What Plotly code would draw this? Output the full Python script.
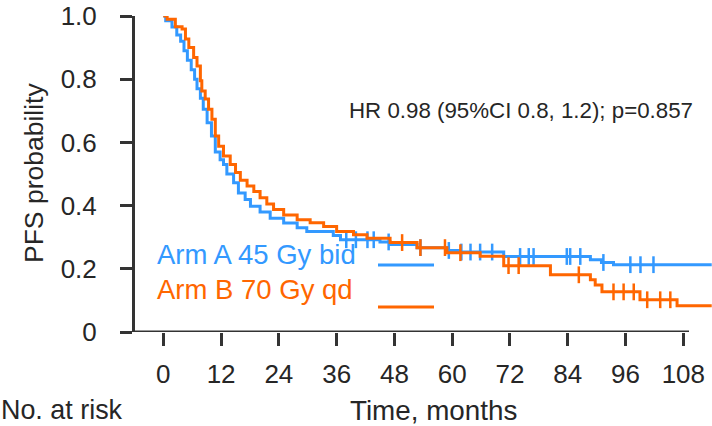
import numpy as np
import plotly.graph_objects as go

# ---------------- data ----------------
x_ticks = [0, 12, 24, 36, 48, 60, 72, 84, 96, 108]
y_ticks = [0, 0.2, 0.4, 0.6, 0.8, 1.0]
y_tick_labels = ["0", "0.2", "0.4", "0.6", "0.8", "1.0"]

arm_a_name = "Arm A 45 Gy bid"
arm_a_time = [0, 0.5, 1.8, 2.8, 3.6, 4.3, 5.0, 5.8, 6.5, 7.0, 7.7, 8.3, 9.1, 10.0,
              10.8, 11.8, 12.5, 13.2, 14.6, 15.6, 17.0, 18.1, 20.1, 22.2, 25.0,
              27.8, 29.8, 35.3, 36.8, 45.0, 47.1, 52.7, 58.9, 61.7, 70.7, 88.7,
              91.0, 93.5, 113.9]
arm_a_surv = [1.0, 0.985, 0.965, 0.94, 0.92, 0.89, 0.86, 0.83, 0.80, 0.77, 0.74,
              0.705, 0.662, 0.62, 0.57, 0.545, 0.53, 0.50, 0.472, 0.44, 0.419,
              0.398, 0.38, 0.36, 0.345, 0.33, 0.318, 0.305, 0.292, 0.285, 0.277,
              0.267, 0.258, 0.253, 0.239, 0.229, 0.22, 0.213, 0.213]
arm_a_censor = [38.0, 40.0, 42.4, 43.7, 46.8, 53.4, 59.3, 61.9, 63.8, 65.8, 68.3,
                74.1, 75.9, 76.9, 83.8, 84.5, 86.6, 91.4, 97.0, 99.1, 101.8]

arm_b_name = "Arm B 70 Gy qd"
arm_b_time = [0, 0.8, 2.5, 3.9, 4.6, 5.3, 6.3, 7.0, 7.7, 8.0, 8.7, 9.4, 10.1, 10.8,
              11.5, 12.5, 13.9, 15.0, 16.0, 17.4, 18.8, 20.1, 21.5, 22.9, 25.0,
              27.8, 30.5, 33.3, 36.0, 39.5, 42.3, 47.1, 52.7, 58.9, 65.8, 70.7,
              80.4, 88.7, 89.7, 91.1, 99.0, 106.7, 113.9]
arm_b_surv = [1.0, 0.99, 0.966, 0.959, 0.927, 0.90, 0.869, 0.842, 0.795, 0.763,
              0.737, 0.705, 0.673, 0.62, 0.588, 0.557, 0.53, 0.505, 0.48, 0.462,
              0.445, 0.425, 0.405, 0.388, 0.37, 0.355, 0.346, 0.334, 0.318, 0.308,
              0.297, 0.283, 0.267, 0.251, 0.24, 0.21, 0.181, 0.165, 0.149, 0.127,
              0.102, 0.083, 0.083]
arm_b_censor = [49.6, 53.4, 58.5, 61.7, 71.7, 73.8, 86.3, 93.5, 95.6, 97.7, 100.5,
                103.2, 105.3]

hr_text = "HR 0.98 (95%CI 0.8, 1.2); p=0.857"
y_title = "PFS probability"
x_title = "Time, months"
risk_title = "No. at risk"

# ---------------- styling ----------------
BLUE = "rgb(51,153,255)"
ORANGE = "rgb(255,102,0)"
AX = "#333333"
TXT = "#262626"
FONT = "Liberation Sans, Arial, sans-serif"

W, H = 712, 426
L, R, T, B = 135, 0, 16, 94
PW, PH = W - L - R, H - T - B


def px(xp):
    return (xp - L) / PW


def py(yp):
    return (H - B - yp) / PH


def step_at(times, surv, c):
    idx = np.searchsorted(np.asarray(times), c, side="right") - 1
    return float(np.asarray(surv)[idx])


fig = go.Figure()

for name, t, s, cens, col in [
    (arm_a_name, arm_a_time, arm_a_surv, arm_a_censor, BLUE),
    (arm_b_name, arm_b_time, arm_b_surv, arm_b_censor, ORANGE),
]:
    fig.add_trace(go.Scatter(x=t, y=s, mode="lines", line=dict(color=col, width=3, shape="hv"),
                             name=name, showlegend=False, hoverinfo="skip"))
    fig.add_trace(go.Scatter(x=cens, y=[step_at(t, s, c) for c in cens], mode="markers",
                             marker=dict(symbol="line-ns", size=12, line=dict(color=col, width=2.5)),
                             showlegend=False, hoverinfo="skip"))

x_lo = (L - 163.3) / 4.815
x_hi = (W - 163.3) / 4.815
x_axis_end = (689 - 163.3) / 4.815

fig.update_layout(
    width=W, height=H,
    margin=dict(l=L, r=R, t=T, b=B, pad=0),
    paper_bgcolor="white", plot_bgcolor="white",
    font=dict(family=FONT, color=TXT, size=26),
    xaxis=dict(range=[x_lo, x_hi], tickvals=x_ticks, ticks="outside", ticklen=13,
               tickwidth=3, tickcolor=AX, showline=False, showgrid=False, zeroline=False,
               tickfont=dict(size=26, color=TXT), ticklabelstandoff=6),
    yaxis=dict(range=[0, 1.0], tickvals=y_ticks, ticktext=y_tick_labels, ticks="outside",
               ticklen=12, tickwidth=3, tickcolor=AX, showline=True, linewidth=3,
               linecolor=AX, showgrid=False, zeroline=False,
               tickfont=dict(size=26, color=TXT), ticklabelstandoff=18),
)

# x axis line (ends just past the last tick)
fig.add_shape(type="line", xref="x", yref="y", x0=x_lo, x1=x_axis_end, y0=0, y1=0,
              line=dict(color=AX, width=3), layer="above")

# legend samples
fig.add_shape(type="line", xref="paper", yref="paper", x0=px(378), x1=px(434),
              y0=py(265), y1=py(265), line=dict(color=BLUE, width=3))
fig.add_shape(type="line", xref="paper", yref="paper", x0=px(378), x1=px(434),
              y0=py(307), y1=py(307), line=dict(color=ORANGE, width=3))

ann = [
    dict(text=hr_text, x=px(347), y=py(110), xanchor="left", yanchor="middle",
         font=dict(size=22.3, color=TXT)),
    dict(text=arm_a_name, x=px(155), y=py(254), xanchor="left", yanchor="middle",
         font=dict(size=27.5, color=BLUE)),
    dict(text=arm_b_name, x=px(155), y=py(289), xanchor="left", yanchor="middle",
         font=dict(size=27.5, color=ORANGE)),
    dict(text=y_title, x=px(34), y=py(173), xanchor="center", yanchor="middle",
         textangle=-90, font=dict(size=26.5, color=TXT)),
    dict(text=x_title, x=px(433), y=py(410), xanchor="center", yanchor="middle",
         font=dict(size=27.8, color=TXT)),
    dict(text=risk_title, x=px(-1), y=py(410), xanchor="left", yanchor="middle",
         font=dict(size=26.9, color=TXT)),
]
for a in ann:
    fig.add_annotation(xref="paper", yref="paper", showarrow=False, **a)

fig.write_html("out.html", config={"displayModeBar": False},
               post_script="document.body.style.margin='0';document.body.style.overflow='hidden';")
